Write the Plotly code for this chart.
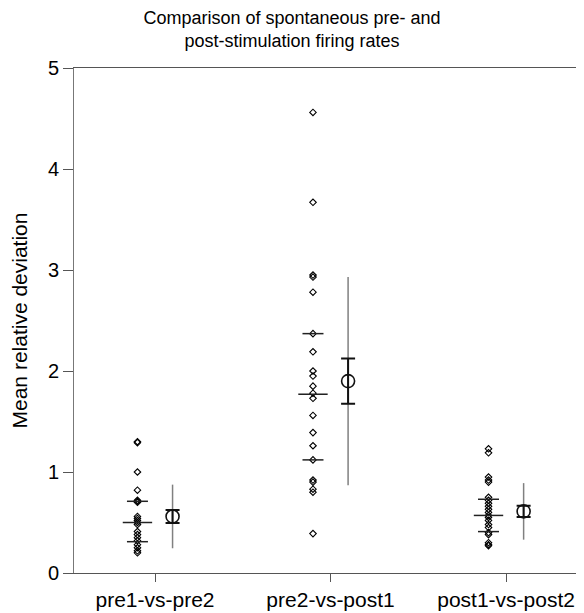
import plotly.graph_objects as go

categories = ["pre1-vs-pre2", "pre2-vs-post1", "post1-vs-post2"]

pre1_pre2 = [1.30, 1.29, 1.00, 0.82, 0.72, 0.71, 0.70, 0.56, 0.54, 0.52, 0.50, 0.48,
             0.41, 0.38, 0.35, 0.32, 0.28, 0.25, 0.22, 0.20]
pre2_post1 = [4.56, 3.67, 2.95, 2.93, 2.78, 2.37, 2.19, 2.00, 1.95, 1.85, 1.78, 1.73,
              1.56, 1.39, 1.26, 1.12, 0.92, 0.90, 0.83, 0.80, 0.39]
post1_post2 = [1.23, 1.19, 0.95, 0.92, 0.90, 0.75, 0.72, 0.69, 0.66, 0.63, 0.60, 0.57,
               0.55, 0.52, 0.48, 0.45, 0.40, 0.38, 0.30, 0.28, 0.27]
groups = [pre1_pre2, pre2_post1, post1_post2]

q25 = [0.31, 1.12, 0.41]
q50 = [0.50, 1.77, 0.57]
q75 = [0.71, 2.37, 0.73]

means = [0.56, 1.90, 0.61]
sem = [0.065, 0.225, 0.055]
sd = [0.315, 1.03, 0.28]

FONT = "Liberation Sans, Arial, Helvetica, sans-serif"
dot_off = -0.1
mean_off = 0.1

fig = go.Figure()

# individual points
for i, g in enumerate(groups):
    fig.add_trace(go.Scatter(
        x=[i + dot_off] * len(g), y=g, mode="markers",
        marker=dict(symbol="diamond-open", size=5, color="black", line=dict(width=1.1, color="#111")),
        showlegend=False, hoverinfo="y"))

# percentile lines
xs_dot = [i + dot_off for i in range(len(categories))]
fig.add_trace(go.Scatter(
    x=xs_dot + xs_dot, y=q25 + q75, mode="markers",
    marker=dict(symbol="line-ew", size=15, line=dict(width=1.5, color="#222")),
    showlegend=False, hoverinfo="y"))
fig.add_trace(go.Scatter(
    x=xs_dot, y=q50, mode="markers",
    marker=dict(symbol="line-ew", size=21, line=dict(width=1.5, color="#222")),
    showlegend=False, hoverinfo="y"))

xs_mean = [i + mean_off for i in range(len(categories))]
# SD bars
fig.add_trace(go.Scatter(
    x=xs_mean, y=means, mode="markers",
    marker=dict(size=1, color="rgba(0,0,0,0)"),
    error_y=dict(type="data", array=sd, visible=True, color="#808080", thickness=1.5, width=0),
    showlegend=False, hoverinfo="skip"))
# SEM bars
fig.add_trace(go.Scatter(
    x=xs_mean, y=means, mode="markers",
    marker=dict(size=1, color="rgba(0,0,0,0)"),
    error_y=dict(type="data", array=sem, visible=True, color="#111", thickness=2, width=7),
    showlegend=False, hoverinfo="skip"))
# mean circles
fig.add_trace(go.Scatter(
    x=xs_mean, y=means, mode="markers",
    marker=dict(symbol="circle-open", size=13, color="#111", line=dict(width=1.6, color="#111")),
    showlegend=False, hoverinfo="y"))

# page body has an 8px margin, so the figure is sized/offset to compensate
fig.update_layout(
    width=576, height=605,
    margin=dict(l=66, r=0, t=59.5, b=39.7),
    paper_bgcolor="white", plot_bgcolor="white",
    font=dict(family=FONT, color="black", size=20),
    title=dict(text="Comparison of spontaneous pre- and<br>post-stimulation firing rates",
               x=284 / 576, xref="container", xanchor="center",
               y=1 - 16 / 605, yref="container", yanchor="top",
               font=dict(size=18, family=FONT, color="black")),
    xaxis=dict(range=[-0.4615, 2.444], tickvals=[0, 1, 2], ticktext=categories,
               showgrid=False, zeroline=False, showline=True, linecolor="#555", linewidth=1,
               mirror=True, ticks="outside", ticklen=8, tickcolor="#555",
               tickfont=dict(size=21, family=FONT, color="black")),
    yaxis=dict(range=[0, 5], tickvals=[0, 1, 2, 3, 4, 5],
               showgrid=False, zeroline=False, showline=True, linecolor="#777", linewidth=1,
               ticks="outside", ticklen=10, tickcolor="#555",
               tickfont=dict(size=20, family=FONT, color="black"),
               title=dict(text="Mean relative deviation", standoff=14,
                          font=dict(size=21, family=FONT, color="black"))),
)

fig.write_html("out.html")
